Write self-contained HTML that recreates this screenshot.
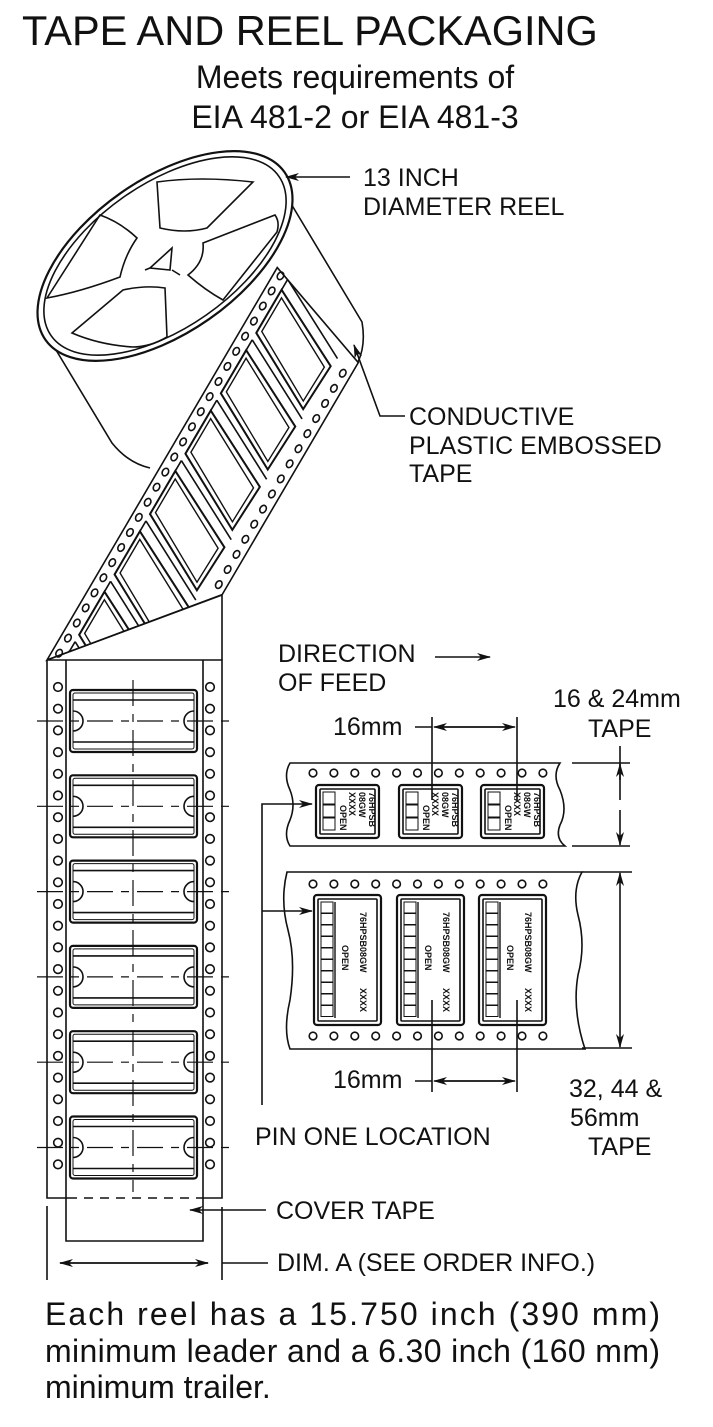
<!DOCTYPE html>
<html><head><meta charset="utf-8"><style>
html,body{margin:0;padding:0;background:#fff}
svg{display:block}
text{font-family:"Liberation Sans",sans-serif;fill:#111}
</style></head><body>
<svg id="s" width="713" height="1427" viewBox="0 0 713 1427" xmlns="http://www.w3.org/2000/svg">
<defs>
<marker id="ah" markerWidth="14" markerHeight="8" refX="13" refY="4" orient="auto" markerUnits="userSpaceOnUse"><path d="M0,0 L14,4 L0,8 L4,4z" fill="#111"/></marker>
<clipPath id="diagclip"><polygon points="0,0 455,0 414,118 145,118"/></clipPath>
</defs>
<g fill="none" stroke="#111" stroke-width="1.6" id="g">
<path d="M287,197 L362,322 Q366,345 358,362"/>
<path d="M50,340 L112,443 Q128,463 150,468"/>
<ellipse cx="165" cy="256" rx="146" ry="77" transform="rotate(-35 165 256)" stroke-width="2.2" fill="#fff"/>
<ellipse cx="165" cy="256" rx="139" ry="72" transform="rotate(-35 165 256)"/>
<path d="M157,182 Q200,176 253,182 L207,228 Q185,234 160,228 Z"/>
<path d="M203,243 L275,215 Q280,222 277,232 L223,300 Q205,290 188,275 Q205,262 203,243Z"/>
<path d="M72,333 L123,290 Q145,285 165,288 L167,337 Q150,347 133,347 Q100,345 72,333Z"/>
<path d="M47,298 L100,215 Q120,222 137,238 Q125,255 120,277 Q80,292 47,298Z"/>
<path d="M150,268 L172,248 L170,270 Z M172,270 L180,275 M150,268 L145,270"/>
<g transform="translate(47,660) rotate(-59.6)">
<polygon points="0,0 455,0 414,118 145,118" fill="#fff"/>
<g id="dh"></g>
<g clip-path="url(#diagclip)" id="dp"></g>
</g>
<path d="M47,660 L222,595 L222,660"/>
<path d="M47,660 L47,1198 L68,1198 M203,1198 L222,1198 L222,660 L47,660"/>
<path d="M68,1198 L203,1198" stroke-dasharray="9,7"/>
<path d="M66,660 L66,1241 L203,1241 L203,660"/>
<g id="vt"></g>
<path d="M133,680 L133,1192" stroke-width="1.2" stroke-dasharray="26,8,8,8"/>
<path d="M47,1206 L47,1280 M222,1207 L222,1280"/>
<path d="M60,1263 L208,1263" marker-end="url(#ah)"/>
<path d="M208,1263 L60,1263" marker-end="url(#ah)"/>
<path d="M222,1263 L268,1263"/>
<path d="M266,1210 L190,1210" marker-end="url(#ah)"/>
<path d="M350,177 L286,177" marker-end="url(#ah)"/>
<path d="M405,416 L380,416 L354,345" marker-end="url(#ah)"/>
<path d="M435,657 L490,657" marker-end="url(#ah)"/>
<path d="M290,763 L560,763 Q552,775 560,790 Q568,810 560,825 Q555,838 565,846 L290,846 Q283,835 290,820 Q296,805 290,790 Q283,775 290,763Z"/>
<path d="M287,872 L582,872 Q572,890 578,915 Q586,945 578,975 Q572,1010 585,1049 L290,1049 Q283,1030 290,1000 Q296,960 288,930 Q280,900 287,872Z"/>
<g id="rt"></g>
<path d="M432,717 L432,800 M517,717 L517,800"/>
<path d="M415,727 L432,727"/>
<path d="M440,727 L515,727" marker-end="url(#ah)"/>
<path d="M509,727 L434,727" marker-end="url(#ah)"/>
<path d="M432,1000 L432,1092 M517,1000 L517,1092"/>
<path d="M415,1081 L432,1081"/>
<path d="M440,1081 L515,1081" marker-end="url(#ah)"/>
<path d="M509,1081 L434,1081" marker-end="url(#ah)"/>
<path d="M572,763 L630,763 M572,846 L630,846"/>
<path d="M620,746 L620,780"/>
<path d="M620,800 L620,764" marker-end="url(#ah)"/>
<path d="M620,810 L620,845" marker-end="url(#ah)"/>
<path d="M582,872 L632,872 M582,1048 L632,1048"/>
<path d="M620,960 L620,873" marker-end="url(#ah)"/>
<path d="M620,960 L620,1047" marker-end="url(#ah)"/>
<path d="M262,1105 L262,804 L312,804" marker-end="url(#ah)"/>
<path d="M262,911 L312,911" marker-end="url(#ah)"/>
</g>
<g id="txt">
<text x="22" y="45" font-size="41.5">TAPE AND REEL PACKAGING</text>
<text x="355" y="88" font-size="32" text-anchor="middle">Meets requirements of</text>
<text x="355" y="128" font-size="32" text-anchor="middle">EIA 481-2 or EIA 481-3</text>
<text x="363" y="186" font-size="25">13 INCH</text>
<text x="363" y="215" font-size="25">DIAMETER REEL</text>
<text x="409" y="425" font-size="25">CONDUCTIVE</text>
<text x="409" y="454" font-size="25">PLASTIC EMBOSSED</text>
<text x="409" y="482" font-size="25">TAPE</text>
<text x="278" y="662" font-size="25">DIRECTION</text>
<text x="278" y="691" font-size="25">OF FEED</text>
<text x="553" y="707" font-size="25">16 &amp; 24mm</text>
<text x="588" y="737" font-size="25">TAPE</text>
<text x="333" y="735" font-size="25">16mm</text>
<text x="333" y="1088" font-size="25">16mm</text>
<text x="569" y="1097" font-size="25">32, 44 &amp;</text>
<text x="570" y="1126" font-size="25">56mm</text>
<text x="588" y="1155" font-size="25">TAPE</text>
<text x="255" y="1145" font-size="25">PIN ONE LOCATION</text>
<text x="276" y="1219" font-size="25">COVER TAPE</text>
<text x="277" y="1271" font-size="25">DIM. A (SEE ORDER INFO.)</text>
<text x="45" y="1325" font-size="32" textLength="615" lengthAdjust="spacing">Each reel has a 15.750 inch (390 mm)</text>
<text x="45" y="1362" font-size="32" textLength="615" lengthAdjust="spacing">minimum leader and a 6.30 inch (160 mm)</text>
<text x="45" y="1398" font-size="32">minimum trailer.</text>
</g>
</svg>
<script>
var NS="http://www.w3.org/2000/svg";
function el(p,t,a){var e=document.createElementNS(NS,t);for(var k in a)e.setAttribute(k,a[k]);p.appendChild(e);return e;}
var dh=document.getElementById('dh');
for(var x=12;x<452;x+=17.5){el(dh,'ellipse',{cx:x,cy:7,rx:4,ry:3});}
for(var x=152;x<412;x+=17.5){el(dh,'ellipse',{cx:x,cy:110,rx:4,ry:3});}
var dp=document.getElementById('dp');
for(var k=-4;k<3;k++){var x=248+k*70;
el(dp,'polygon',{points:x+',15 '+(x+50)+',15 '+(x+9)+',96 '+(x-42)+',94','stroke-width':2});
el(dp,'polygon',{points:(x+4)+',19 '+(x+43)+',19 '+(x+5)+',91 '+(x-35)+',90','stroke-width':1.4});
el(dp,'path',{d:'M'+(x+50)+',15 L'+(x+62)+',15 M'+(x+62)+',15 L'+(x+19)+',98'});}
var vt=document.getElementById('vt');
for(var y=687;y<1185;y+=21.7){el(vt,'circle',{cx:58,cy:y,r:4.3});el(vt,'circle',{cx:210,cy:y,r:4.3});}
for(var i=0;i<6;i++){var y0=690+i*85.3,m=y0+31;
el(vt,'rect',{x:70,y:y0,width:127,height:62,rx:3,'stroke-width':2.2});
el(vt,'rect',{x:73,y:y0+3,width:121,height:56,rx:2,'stroke-width':1});
el(vt,'path',{d:'M73,'+(y0+10)+' L194,'+(y0+10)+' M73,'+(y0+52)+' L194,'+(y0+52),'stroke-width':1.6});
el(vt,'path',{d:'M73,'+(m-10)+' A10,10 0 0 1 73,'+(m+10)+' M194,'+(m-10)+' A10,10 0 0 0 194,'+(m+10)});
el(vt,'path',{d:'M37,'+m+' L230,'+m,'stroke-width':1.2,'stroke-dasharray':'26,8,8,8'});}
var rt=document.getElementById('rt');
for(var k=0;k<12;k++){var x=313+k*20.9;el(rt,'circle',{cx:x,cy:773,r:3.8});el(rt,'circle',{cx:x,cy:884,r:3.8});el(rt,'circle',{cx:x,cy:1036,r:3.8});}
function tx(s,x,y,fs){var t=el(rt,'text',{x:0,y:0,'font-size':fs,'font-weight':'bold',stroke:'none',transform:'translate('+x+','+y+') rotate(90)'});t.textContent=s;}
[316,399,481].forEach(function(x){
el(rt,'rect',{x:x,y:785,width:63,height:53,rx:3,'stroke-width':2.2});
el(rt,'rect',{x:x+4,y:789,width:55,height:45,rx:1});
for(var j=0;j<3;j++)el(rt,'rect',{x:x+7,y:792+j*13,width:12,height:12,'stroke-width':1});
tx('76HPSB',x+53,792,9);tx('08GW',x+43,792,9);tx('XXXX',x+33,792,9);tx('OPEN',x+24,805,9);
el(rt,'rect',{x:x-2,y:895,width:67,height:130,rx:3,'stroke-width':2.2});
el(rt,'rect',{x:x+2,y:899,width:59,height:122,rx:1});
for(var j=0;j<10;j++)el(rt,'rect',{x:x+5,y:902+j*11.5,width:12,height:11,'stroke-width':1});
el(rt,'path',{d:'M'+(x+19)+',902 L'+(x+19)+',1018','stroke-width':1.4});
tx('76HPSB08GW',x+44,912,9);tx('XXXX',x+44,988,9);tx('OPEN',x+26,945,9);
});
</script>
</body></html>
